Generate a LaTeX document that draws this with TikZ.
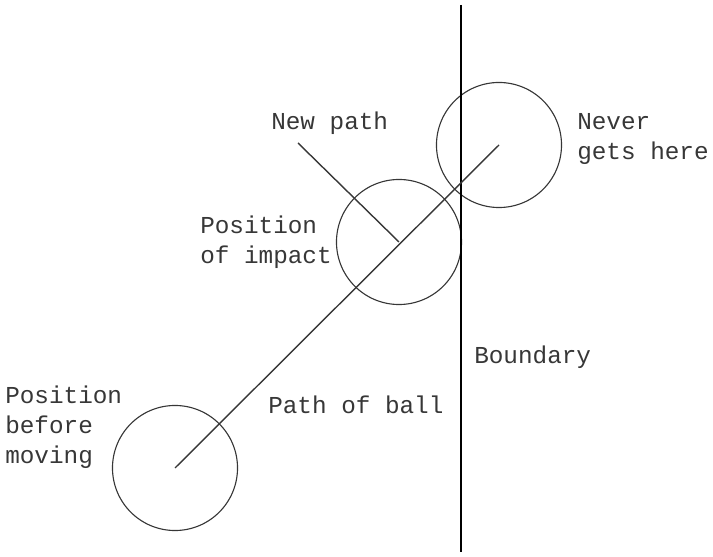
\documentclass[tikz,border=0pt]{standalone}
\usepackage{fontspec}
\setmonofont{Liberation Mono}
\usetikzlibrary{positioning}
\definecolor{inkgray}{RGB}{55,55,55}

\begin{document}
\begin{tikzpicture}[
  x=0.025cm, y=-0.025cm,
  ball/.style={circle, draw=inkgray, line width=0.8pt,
               minimum size=3.125cm, inner sep=0pt},
  txt/.style={font=\ttfamily\fontsize{17.3}{21.3}\selectfont, text=inkgray,
              align=left, inner sep=0pt},
  pathline/.style={line width=1pt, inkgray},
  wall/.style={line width=1.6pt, black},
]
\useasboundingbox (0,0) rectangle (713,557);

% Balls
\node[ball] (start) at (175,468) {};
\node[ball] (impact) at (399,242) {};
\node[ball] (never) at (499,145) {};

% Boundary
\coordinate (walltop) at (461,5);
\coordinate (wallbot) at (461,552);
\coordinate (newend) at (298,143);

% Labels
\node[txt, anchor=west] (lnew) at (271,123) {New path};
\node[txt, anchor=west] (lnever) at (577,139) {Never\\gets here};
\node[txt, anchor=west] (limpact) at (200,242) {Position\\of impact};
\node[txt, anchor=west] (lwall) at (474,357) {Boundary};
\node[txt, anchor=west] (lpath) at (268,405) {Path of ball};
\node[txt, anchor=west] (lstart) at (5,427) {Position\\before\\moving};

% Lines
\draw[wall] (walltop) -- (wallbot);
\draw[pathline] (start.center) -- (never.center);
\draw[pathline] (impact.center) -- (newend);

\end{tikzpicture}
\end{document}
